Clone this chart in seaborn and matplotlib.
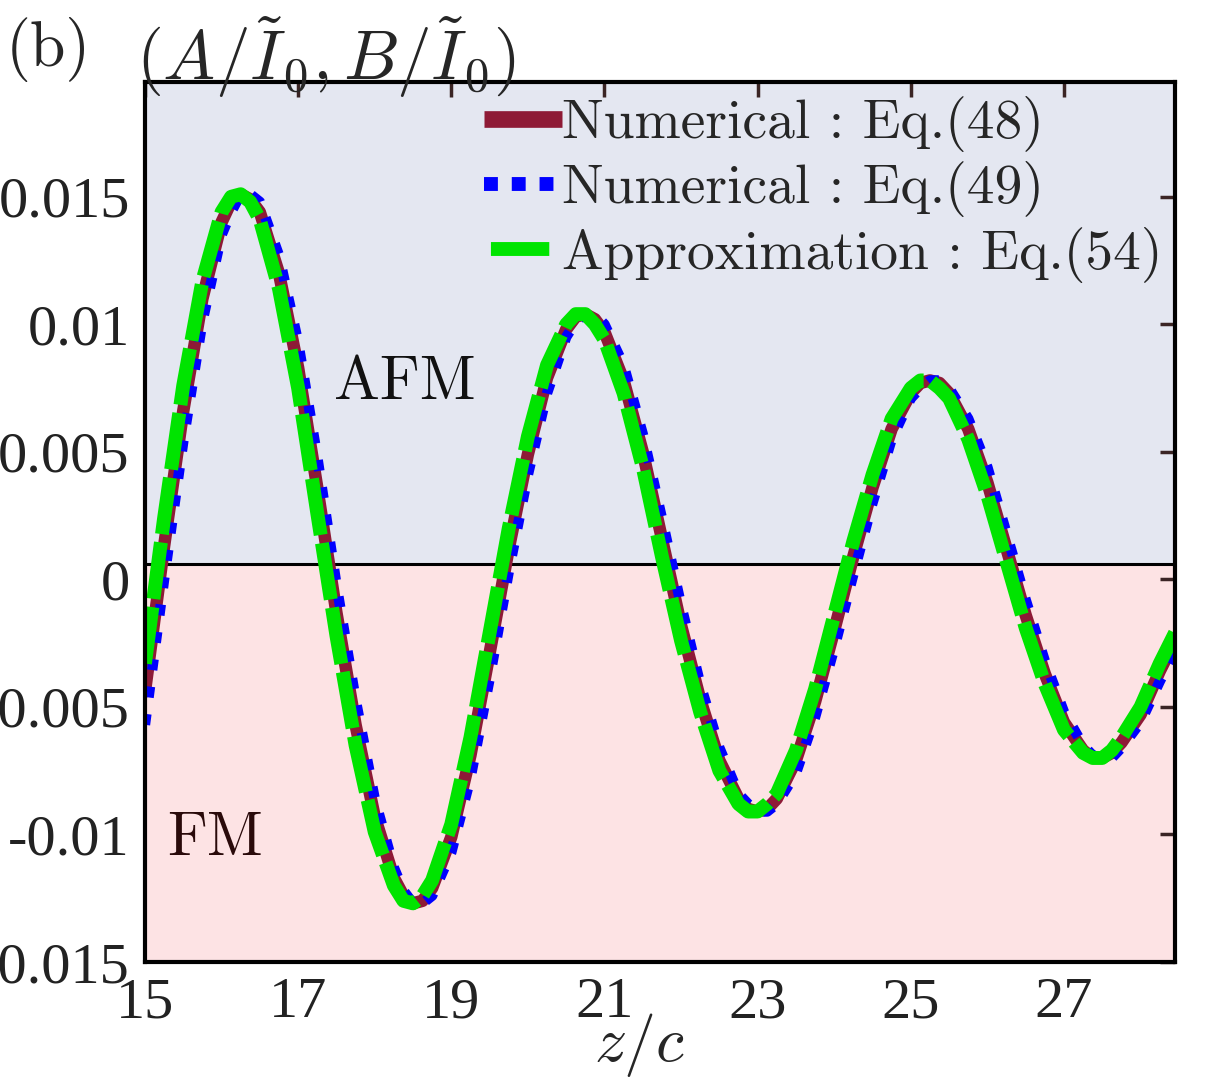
import numpy as np
import pandas as pd
import matplotlib
matplotlib.use('Agg')
import matplotlib.pyplot as plt
import seaborn as sns
from matplotlib.lines import Line2D

# --- values ---
z = [15.00, 15.25, 15.50, 15.75, 16.00, 16.125, 16.25, 16.375, 16.50, 16.75,
     17.00, 17.25, 17.50, 17.75, 18.00, 18.25, 18.375, 18.50, 18.625, 18.75,
     19.00, 19.25, 19.50, 19.75, 20.00, 20.25, 20.50, 20.625, 20.75, 20.875,
     21.00, 21.25, 21.50, 21.75, 22.00, 22.25, 22.50, 22.75, 22.875, 23.00,
     23.125, 23.25, 23.50, 23.75, 24.00, 24.25, 24.50, 24.75, 25.00, 25.125,
     25.25, 25.375, 25.50, 25.75, 26.00, 26.25, 26.50, 26.75, 27.00, 27.25,
     27.375, 27.50, 27.625, 27.75, 28.00, 28.25, 28.45]

eq48 = [-0.0044, 0.0013, 0.0066, 0.0110, 0.0140, 0.0148, 0.0151, 0.0149, 0.0144, 0.0120,
        0.0083, 0.0036, -0.0013, -0.0057, -0.0093, -0.0117, -0.0124, -0.0127, -0.0126, -0.0121,
        -0.0101, -0.0069, -0.0029, 0.0012, 0.0049, 0.0079, 0.0098, 0.0103, 0.0104, 0.0102,
        0.0097, 0.0078, 0.0050, 0.0016, -0.0018, -0.0047, -0.0071, -0.0086, -0.0090, -0.0091,
        -0.0090, -0.0086, -0.0071, -0.0048, -0.0020, 0.0009, 0.0036, 0.0059, 0.0073, 0.0077,
        0.0078, 0.0077, 0.0073, 0.0059, 0.0038, 0.0012, -0.0014, -0.0037, -0.0056, -0.0067,
        -0.0070, -0.0070, -0.0068, -0.0064, -0.0053, -0.0036, -0.0024]

eq49 = [-0.0057, 0.0000, 0.0054, 0.0101, 0.0135, 0.0144, 0.0151, 0.0151, 0.0148, 0.0127,
        0.0093, 0.0048, -0.0002, -0.0047, -0.0086, -0.0113, -0.0122, -0.0127, -0.0127, -0.0124,
        -0.0107, -0.0078, -0.0039, 0.0003, 0.0041, 0.0073, 0.0095, 0.0101, 0.0104, 0.0104,
        0.0100, 0.0084, 0.0057, 0.0024, -0.0010, -0.0041, -0.0066, -0.0084, -0.0088, -0.0091,
        -0.0091, -0.0088, -0.0076, -0.0054, -0.0027, 0.0002, 0.0030, 0.0055, 0.0071, 0.0075,
        0.0078, 0.0078, 0.0075, 0.0063, 0.0044, 0.0018, -0.0008, -0.0032, -0.0052, -0.0065,
        -0.0069, -0.0070, -0.0070, -0.0066, -0.0056, -0.0040, -0.0028]

eq54 = [-0.0033, 0.0024, 0.0076, 0.0117, 0.0144, 0.0150, 0.0151, 0.0148, 0.0141, 0.0114,
        0.0075, 0.0026, -0.0022, -0.0065, -0.0099, -0.0120, -0.0126, -0.0127, -0.0124, -0.0118,
        -0.0096, -0.0062, -0.0021, 0.0020, 0.0056, 0.0084, 0.0100, 0.0104, 0.0104, 0.0100,
        0.0094, 0.0073, 0.0044, 0.0009, -0.0024, -0.0052, -0.0075, -0.0088, -0.0091, -0.0091,
        -0.0088, -0.0084, -0.0067, -0.0043, -0.0014, 0.0015, 0.0041, 0.0063, 0.0075, 0.0078,
        0.0078, 0.0075, 0.0071, 0.0055, 0.0033, 0.0007, -0.0019, -0.0041, -0.0059, -0.0068,
        -0.0070, -0.0070, -0.0067, -0.0062, -0.0050, -0.0033, -0.0021]

series_labels = ['Numerical : Eq.(48)', 'Numerical : Eq.(49)', 'Approximation : Eq.(54)']
x_ticks = [15, 17, 19, 21, 23, 25, 27]
y_ticks = [-0.015, -0.01, -0.005, 0, 0.005, 0.01, 0.015]
y_ticklabels = ['-0.015', '-0.01', '-0.005', '0', '0.005', '0.01', '0.015']

# AFM / FM split level and axis ranges
BOUNDARY = 0.0006
XLIM = (15, 28.45)
YLIM = (-0.015, 0.0195)

# --- style ---
sns.set_theme(style='white')
plt.rcParams['font.family'] = ['Liberation Serif', 'DejaVu Serif']
plt.rcParams['mathtext.fontset'] = 'cm'
plt.rcParams['axes.unicode_minus'] = False

red, blue, green = '#8e1a36', '#0000ff', '#00e400'
red_ls = '-'
blue_ls = (0, (1.05, 1.6))
green_ls = (0, (4.1, 0.6))

fig = plt.figure(figsize=(12.17, 10.89), dpi=100)
ax = fig.add_axes([0.1191, 0.1166, 0.8464, 0.8081])

# background regions
ax.axhspan(BOUNDARY, YLIM[1], color='#e4e7f1', zorder=0, lw=0)
ax.axhspan(YLIM[0], BOUNDARY, color='#fde3e4', zorder=0, lw=0)
ax.axhline(BOUNDARY, color='black', lw=2.2, zorder=1)

df = pd.DataFrame({'z': z, 'eq48': eq48, 'eq49': eq49, 'eq54': eq54})
sns.lineplot(data=df, x='z', y='eq48', color=red, linewidth=9, linestyle=red_ls,
             solid_joinstyle='round', estimator=None, ax=ax, zorder=3)
sns.lineplot(data=df, x='z', y='eq49', color=blue, linewidth=7.5, linestyle=blue_ls,
             dash_joinstyle='round', estimator=None, ax=ax, zorder=4)
sns.lineplot(data=df, x='z', y='eq54', color=green, linewidth=10, linestyle=green_ls,
             dash_joinstyle='round', estimator=None, ax=ax, zorder=5)

ax.set_xlim(*XLIM)
ax.set_ylim(*YLIM)
ax.set_xticks(x_ticks)
ax.set_xticklabels([str(t) for t in x_ticks])
ax.set_yticks(y_ticks)
ax.set_yticklabels(y_ticklabels)
ax.set_xlabel('')
ax.set_ylabel('')
ax.tick_params(direction='in', length=11, width=2.5, color='#3a2424',
               labelsize=42, labelcolor='#222222', top=True, right=True, pad=11)

for sp in ax.spines.values():
    sp.set_linewidth(3)
    sp.set_color('black')
    sp.set_zorder(6)

# region labels
ax.text(18.39, 0.0077, 'AFM', fontsize=44, family='cmr10', ha='center', va='center', color='#111111')
ax.text(15.91, -0.0102, 'FM', fontsize=44, family='cmr10', ha='center', va='center', color='#2a0a0a')

# legend
handles = [
    Line2D([], [], color=red, lw=12, linestyle=red_ls, solid_capstyle='butt'),
    Line2D([], [], color=blue, lw=10, dash_capstyle='butt'),
    Line2D([], [], color=green, lw=10, dash_capstyle='butt'),
]
leg = ax.legend(handles, series_labels, loc='upper right', frameon=False,
                bbox_to_anchor=(1162 / 1217, 1 - 96 / 1089), bbox_transform=fig.transFigure,
                prop={'family': 'cmr10', 'size': 40}, handlelength=1.4, handletextpad=0.0,
                labelspacing=0.17, borderpad=0, borderaxespad=0)
leg_lines = leg.get_lines()
leg_lines[1].set_linestyle((0, (1.0, 1.0)))
leg_lines[2].set_linestyle((0, (0.0, 0.5, 4.2, 2.0)))

# panel label, y quantity and x quantity
fig.text(6 / 1217, 1 - 50 / 1089, '(b)', fontsize=46, family='cmr10', ha='left', va='center')
fig.text(136 / 1217, 1 - 57 / 1089, r'$(A/\tilde{I}_0, B/\tilde{I}_0)$', fontsize=50,
         ha='left', va='center')
fig.text(640 / 1217, 1 - 1045 / 1089, r'$z/c$', fontsize=46, ha='center', va='center')

fig.savefig('out.png', dpi=100)
